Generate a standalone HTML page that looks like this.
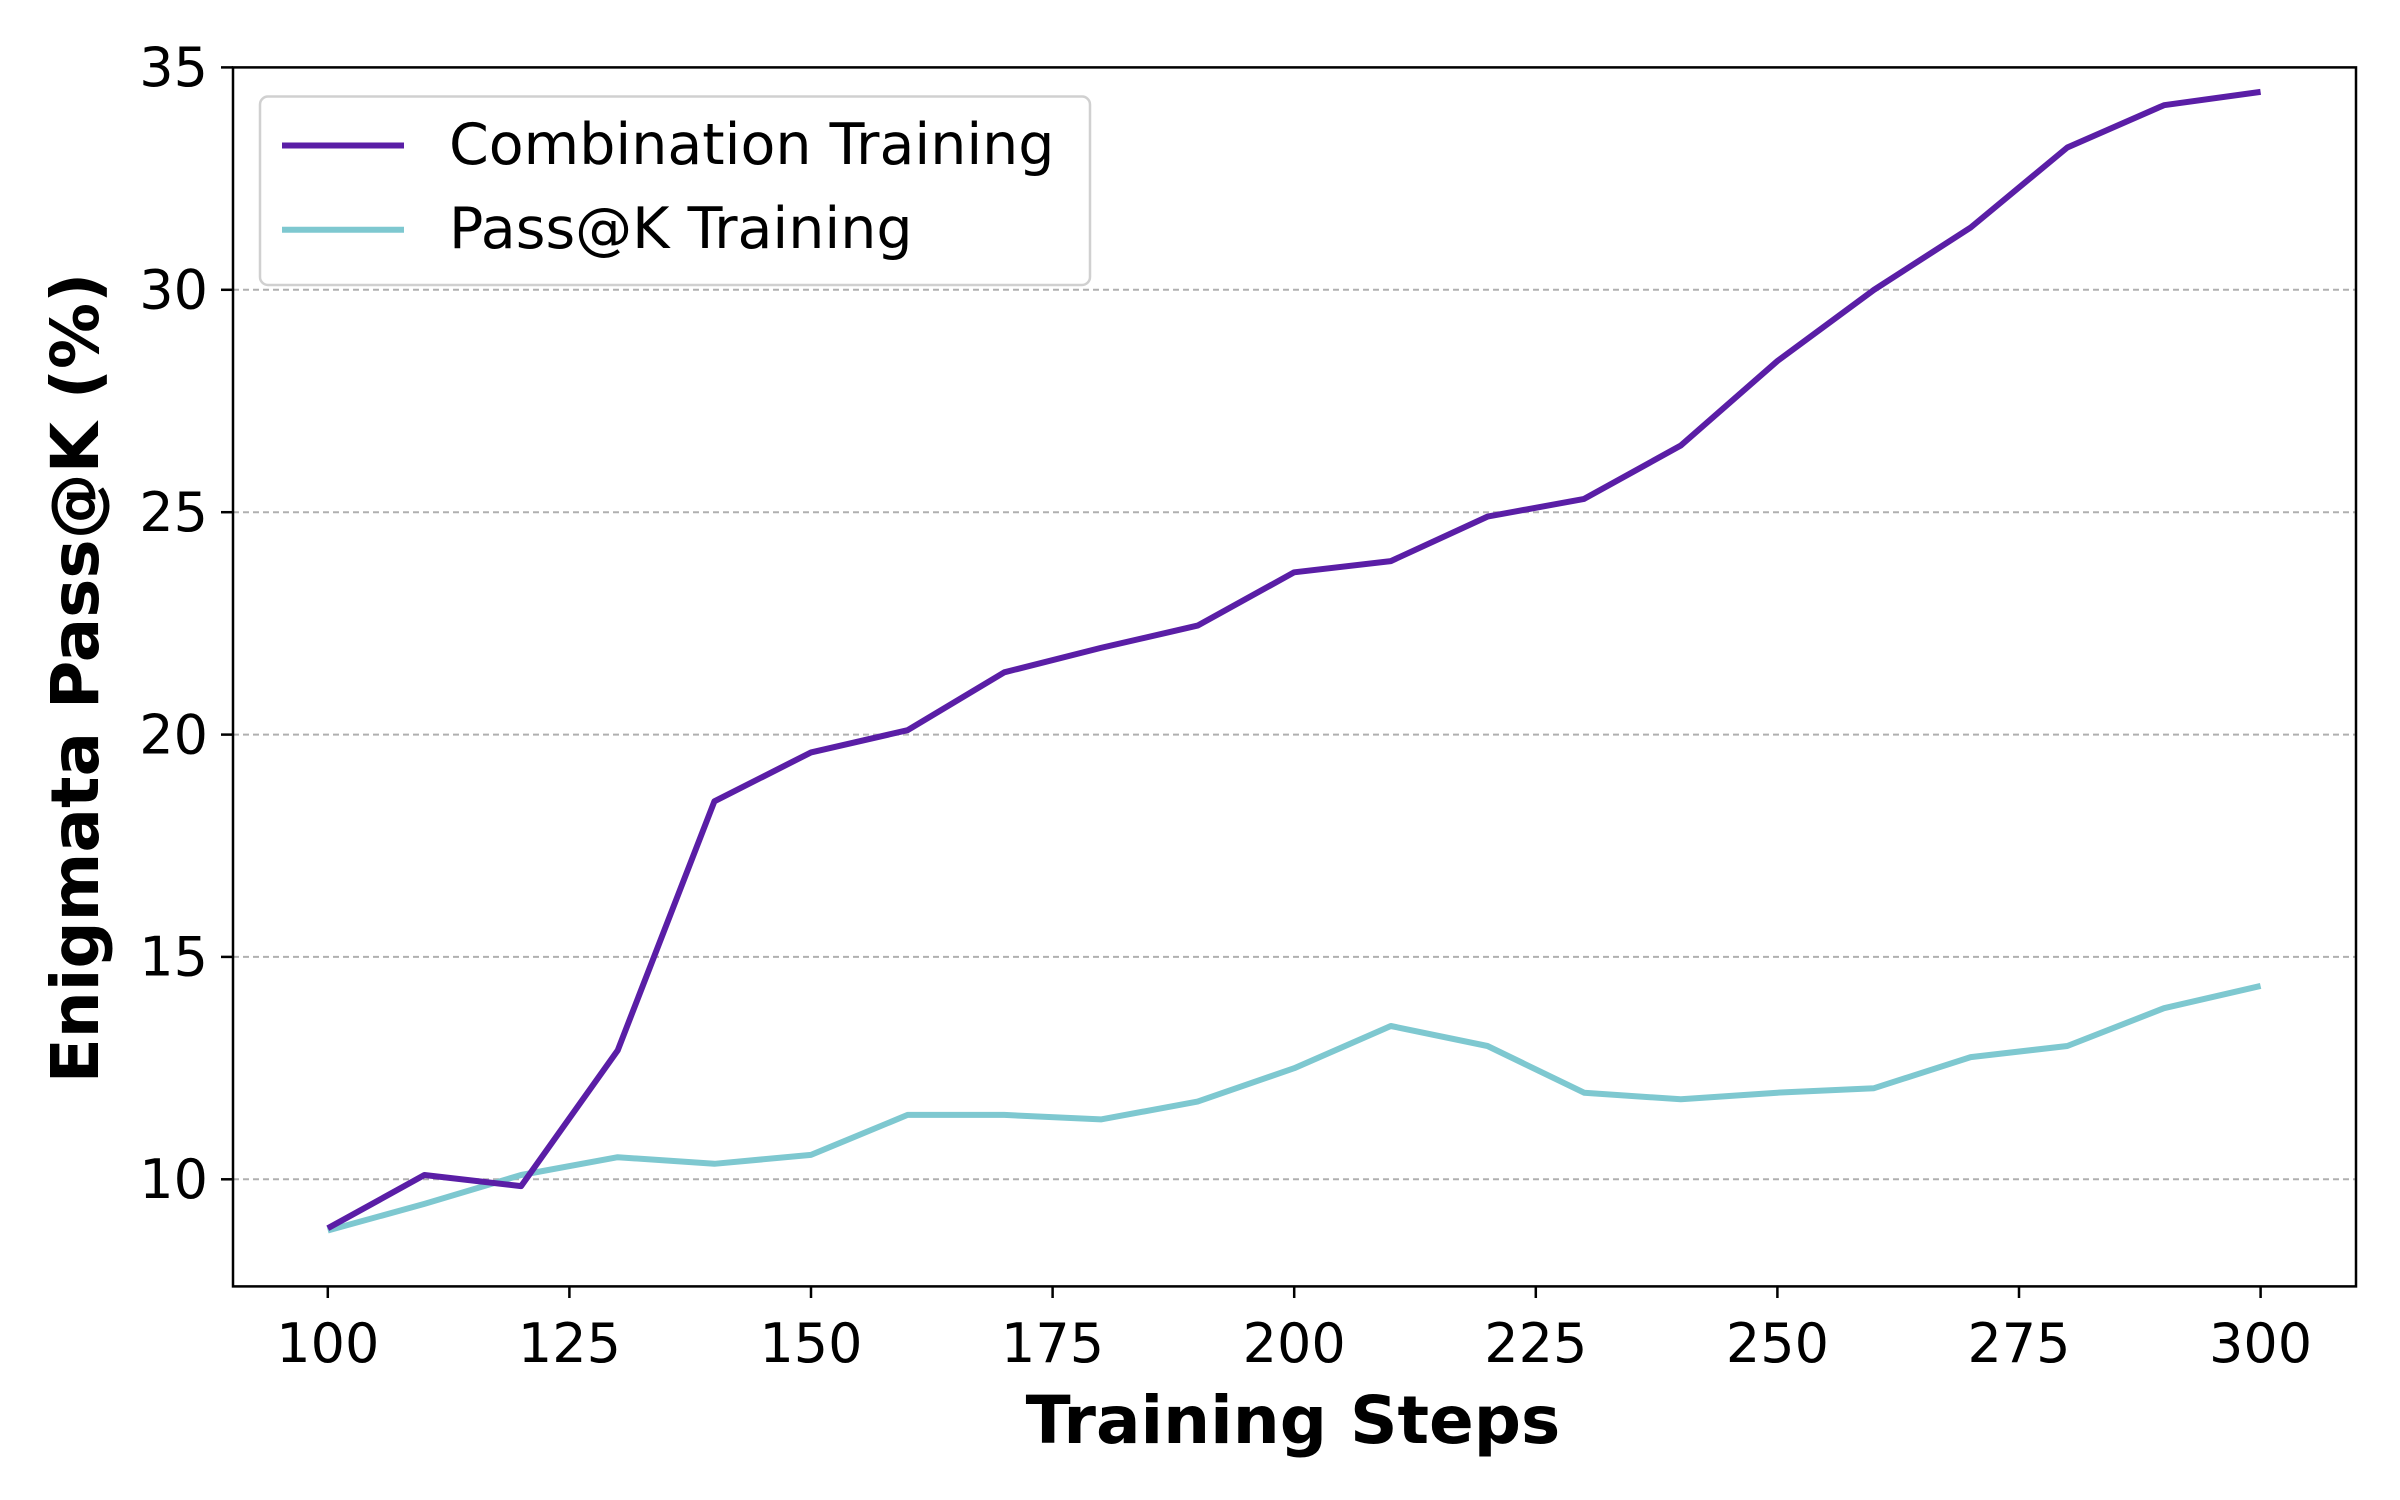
<!DOCTYPE html>
<html><head><style>body{margin:0;background:#fff}svg{display:block}</style></head><body>
<svg width="2400" height="1500" xmlns="http://www.w3.org/2000/svg" font-family="'DejaVu Sans', sans-serif">
<rect width="2400" height="1500" fill="#fff"/>
<g stroke="#b0b0b0" stroke-width="2" stroke-dasharray="6,4">
<line x1="233" x2="2356" y1="1179.3" y2="1179.3"/><line x1="233" x2="2356" y1="956.9" y2="956.9"/>
<line x1="233" x2="2356" y1="734.6" y2="734.6"/><line x1="233" x2="2356" y1="512.2" y2="512.2"/>
<line x1="233" x2="2356" y1="289.8" y2="289.8"/>
</g>
<polyline fill="none" stroke="#7ec8d0" stroke-width="6" stroke-linejoin="round" points="327.8,1230.5 424.4,1203.9 521.1,1175 617.7,1157.2 714.4,1163.8 811,1154.9 907.6,1114.9 1004.3,1114.9 1100.9,1119.4 1197.6,1101.6 1294.2,1068.2 1390.8,1026 1487.5,1046 1584.1,1092.7 1680.8,1099.3 1777.4,1092.7 1874,1088.2 1970.7,1057.1 2067.3,1046 2164,1008.2 2260.6,985.9"/>
<polyline fill="none" stroke="#5a1ea6" stroke-width="6" stroke-linejoin="round" points="327.8,1228.3 424.4,1175 521.1,1186.1 617.7,1050.4 714.4,801.3 811,752.4 907.6,730.2 1004.3,672.3 1100.9,647.9 1197.6,625.6 1294.2,572.3 1390.8,561.1 1487.5,516.6 1584.1,498.9 1680.8,445.5 1777.4,361 1874,289.8 1970.7,227.5 2067.3,147.5 2164,105.2 2260.6,91.9"/>
<rect x="233" y="67.4" width="2123" height="1219" fill="none" stroke="#000" stroke-width="2.5"/>
<g stroke="#000" stroke-width="2.5">
<line x1="221" x2="233" y1="1179.3" y2="1179.3"/><line x1="221" x2="233" y1="956.9" y2="956.9"/>
<line x1="221" x2="233" y1="734.6" y2="734.6"/><line x1="221" x2="233" y1="512.2" y2="512.2"/>
<line x1="221" x2="233" y1="289.8" y2="289.8"/><line x1="221" x2="233" y1="67.4" y2="67.4"/>
<line x1="327.8" x2="327.8" y1="1286.4" y2="1298"/><line x1="569.4" x2="569.4" y1="1286.4" y2="1298"/>
<line x1="811" x2="811" y1="1286.4" y2="1298"/><line x1="1052.6" x2="1052.6" y1="1286.4" y2="1298"/>
<line x1="1294.2" x2="1294.2" y1="1286.4" y2="1298"/><line x1="1535.8" x2="1535.8" y1="1286.4" y2="1298"/>
<line x1="1777.4" x2="1777.4" y1="1286.4" y2="1298"/><line x1="2019" x2="2019" y1="1286.4" y2="1298"/>
<line x1="2260.6" x2="2260.6" y1="1286.4" y2="1298"/>
</g>
<g font-size="54" text-anchor="end" fill="#000">
<text x="208" y="1198">10</text><text x="208" y="975.6">15</text><text x="208" y="753.3">20</text>
<text x="208" y="530.9">25</text><text x="208" y="308.5">30</text><text x="208" y="86">35</text>
</g>
<g font-size="54" text-anchor="middle" fill="#000">
<text x="327.8" y="1362">100</text><text x="569.4" y="1362">125</text><text x="811" y="1362">150</text>
<text x="1052.6" y="1362">175</text><text x="1294.2" y="1362">200</text><text x="1535.8" y="1362">225</text>
<text x="1777.4" y="1362">250</text><text x="2019" y="1362">275</text><text x="2260.6" y="1362">300</text>
</g>
<text x="1293" y="1443" font-size="66" font-weight="bold" text-anchor="middle">Training Steps</text>
<text transform="translate(98,678) rotate(-90)" font-size="66" font-weight="bold" text-anchor="middle">Enigmata Pass@K (%)</text>
<rect x="260" y="96.5" width="830" height="188.5" rx="8" fill="#fff" fill-opacity="0.85" stroke="#d0d0d0" stroke-width="2.5"/>
<line x1="282" x2="404" y1="145.5" y2="145.5" stroke="#5a1ea6" stroke-width="6"/>
<line x1="282" x2="404" y1="229.7" y2="229.7" stroke="#7ec8d0" stroke-width="6"/>
<text x="449" y="164" font-size="57">Combination Training</text>
<text x="449" y="248" font-size="57">Pass@K Training</text>
</svg>
</body></html>
